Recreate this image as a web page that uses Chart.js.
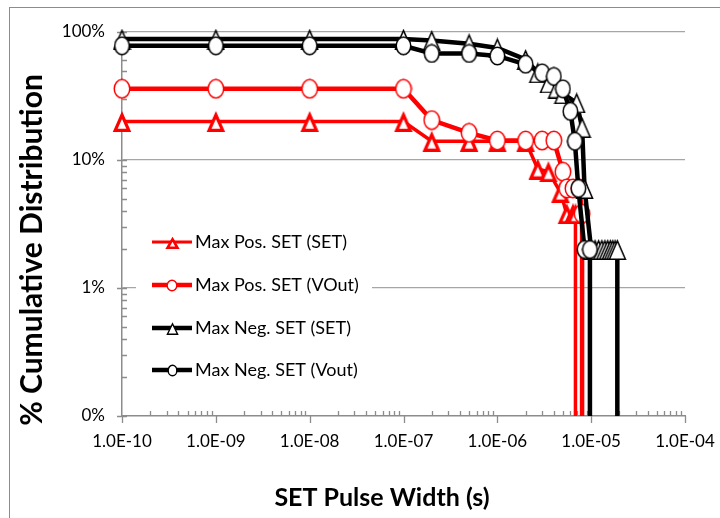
<!DOCTYPE html>
<html>
<head>
<meta charset="utf-8">
<script src="https://cdn.jsdelivr.net/npm/chart.js@4.4.1/dist/chart.umd.min.js"></script>
<style>
  html, body { margin: 0; padding: 0; background: #fff; }
  #wrap { width: 720px; height: 518px; }
</style>
</head>
<body>
<div id="wrap"><canvas id="cdfChart" width="720" height="518"></canvas></div>
<script>
// Serienamn (samma ordning som i förklaringen)
var seriesNames = ['Max Pos. SET (SET)', 'Max Pos. SET (VOut)', 'Max Neg. SET (SET)', 'Max Neg. SET (Vout)'];

// Pulsbredd (s) och kumulativ fördelning (%) - 0.1 betyder "ner till 0%-axeln"
var posSetX = [1e-10, 1e-9, 1e-8, 1e-7, 2e-7, 5e-7, 1e-6, 2e-6, 2.7e-6, 3.5e-6, 4.7e-6, 5.5e-6, 6.4e-6, 6.8e-6, 6.8e-6];
var posSetY = [20, 20, 20, 20, 14, 14, 14, 14, 8.5, 8.1, 5.6, 3.8, 3.8, 3.8, 0.1];

var posVoutX = [1e-10, 1e-9, 1e-8, 1e-7, 2e-7, 5e-7, 1e-6, 2e-6, 3e-6, 4e-6, 5e-6, 5.5e-6, 6.4e-6, 7.5e-6, 8e-6, 8e-6];
var posVoutY = [36, 36, 36, 36, 20.5, 16.3, 14.2, 14.2, 14.2, 14.2, 8.1, 6, 6, 6, 3.8, 0.1];

var negSetX = [1e-10, 1e-9, 1e-8, 1e-7, 2e-7, 5e-7, 1e-6, 2e-6, 2.7e-6, 3.5e-6, 4.3e-6, 5e-6, 7e-6, 8e-6, 8.5e-6,
               1e-5, 1.1e-5, 1.2e-5, 1.3e-5, 1.4e-5, 1.5e-5, 1.6e-5, 1.7e-5, 1.8e-5, 1.9e-5, 1.9e-5];
var negSetY = [88, 88, 88, 88, 86, 81, 75, 61, 48, 40, 36.5, 33, 28, 18, 6,
               2, 2, 2, 2, 2, 2, 2, 2, 2, 2, 0.1];

var negVoutX = [1e-10, 1e-9, 1e-8, 1e-7, 2e-7, 5e-7, 1e-6, 2e-6, 3e-6, 4e-6, 5e-6, 6e-6, 6.7e-6, 7.3e-6, 8.5e-6, 9.7e-6, 9.7e-6];
var negVoutY = [78, 78, 78, 78, 68, 68, 65, 56, 48, 45, 36, 24, 14, 6, 2, 2, 0.1];

// Axelmarkeringar
var xTicks = [1e-10, 1e-9, 1e-8, 1e-7, 1e-6, 1e-5, 1e-4];
var xTickLabels = ['1.0E-10', '1.0E-09', '1.0E-08', '1.0E-07', '1.0E-06', '1.0E-05', '1.0E-04'];
var yTicks = [0.1, 1, 10, 100];
var yTickLabels = ['0%', '1%', '10%', '100%'];

var xTitle = 'SET Pulse Width (s)';
var yTitle = '% Cumulative Distribution';

function toPoints(xs, ys) {
    return xs.map(function (x, i) { return { x: x, y: ys[i] }; });
}

// Markörer som bilder (Excel-liknande triangel/ellips, vit fyllning)
function makeMarker(shape, w, h, color, lw) {
    var cv = document.createElement('canvas');
    cv.width = w; cv.height = h;
    var g = cv.getContext('2d');
    var p = lw / 2;
    g.beginPath();
    if (shape === 'triangle') {
        g.moveTo(w / 2, lw * 1.25);
        g.lineTo(w - lw, h - p);
        g.lineTo(lw, h - p);
        g.closePath();
    } else {
        g.ellipse(w / 2, h / 2, w / 2 - p - 0.5, h / 2 - p - 0.5, 0, 0, Math.PI * 2);
    }
    g.fillStyle = '#fff';
    g.fill();
    g.lineWidth = lw;
    g.strokeStyle = color;
    g.stroke();
    return cv;
}

// Ingen markör på punkten som går ner till axeln
function markerSize(size) {
    return function (c) {
        return c.raw && c.raw.y <= yTicks[0] ? 0 : size;
    };
}

var axisGray = '#8c8c8c';
var gridGray = '#a6a6a6';
var labelFont = { family: 'Lato', size: 17 };

// Ramen, små skalstreck, axeltitlar och förklaringen ritas här
var decorations = {
    id: 'decorations',
    beforeDatasetsDraw: function (chart) {
        var c = chart.ctx, xs = chart.scales.x, ys = chart.scales.y;
        var a = chart.chartArea;
        c.save();
        c.strokeStyle = axisGray;
        c.lineWidth = 1.3;
        c.beginPath();
        for (var n = -10; n < -4; n++) {
            for (var k = 2; k <= 9; k++) {
                var px = Math.round(xs.getPixelForValue(k * Math.pow(10, n))) + 0.5;
                c.moveTo(px, a.bottom); c.lineTo(px, a.bottom - 5);
            }
        }
        xTicks.forEach(function (v) {
            var px = Math.round(xs.getPixelForValue(v)) + 0.5;
            c.moveTo(px, a.bottom); c.lineTo(px, a.bottom + 7);
        });
        for (var m = -1; m < 2; m++) {
            for (var j = 2; j <= 9; j++) {
                var py = Math.round(ys.getPixelForValue(j * Math.pow(10, m))) + 0.5;
                c.moveTo(a.left, py); c.lineTo(a.left + 5, py);
            }
        }
        yTicks.forEach(function (v) {
            var py = Math.round(ys.getPixelForValue(v)) + 0.5;
            c.moveTo(a.left - 5, py); c.lineTo(a.left + 5, py);
        });
        c.stroke();
        c.restore();
    },
    afterDraw: function (chart) {
        var c = chart.ctx;
        c.save();
        // yttre ram
        c.strokeStyle = '#8c8c8c';
        c.lineWidth = 1;
        c.strokeRect(9.5, 7.5, 760, 560);

        // axeltitlar
        c.fillStyle = '#000';
        c.textAlign = 'center';
        c.textBaseline = 'middle';
        c.font = 'bold 25px Lato';
        c.fillText(xTitle, 382, 498);
        c.save();
        c.translate(32, 250);
        c.rotate(-Math.PI / 2);
        c.font = 'bold 30px Lato';
        c.fillText(yTitle, 0, 0);
        c.restore();

        // förklaring
        c.fillStyle = '#fff';
        c.fillRect(136, 222, 236, 168);
        var rows = [242, 285, 328, 370];
        chart.data.datasets.forEach(function (ds, i) {
            var y = rows[i];
            c.strokeStyle = ds.borderColor;
            c.lineWidth = ds.legendLine;
            c.beginPath();
            c.moveTo(152, y); c.lineTo(192, y);
            c.stroke();
            var img = ds.legendImg;
            c.drawImage(img, Math.round(172 - img.width / 2), Math.round(y - img.height / 2));
            c.fillStyle = '#000';
            c.font = '18px Lato';
            c.textAlign = 'left';
            c.fillText(seriesNames[i], 195, y);
        });
        c.restore();
    }
};

var ctx = document.getElementById('cdfChart').getContext('2d');

var myChart = new Chart(ctx, {
    type: 'line',
    data: {
        datasets: [{
            label: seriesNames[0],
            data: toPoints(posSetX, posSetY),
            borderColor: '#ff0000',
            borderWidth: 3.5,
            pointStyle: makeMarker('triangle', 20, 21, '#ff0000', 3.2),
            pointRadius: markerSize(10),
            legendImg: makeMarker('triangle', 15, 13, '#ff0000', 2.6),
            legendLine: 3,
            order: 4
        }, {
            label: seriesNames[1],
            data: toPoints(posVoutX, posVoutY),
            borderColor: '#ff0000',
            borderWidth: 4.5,
            pointStyle: makeMarker('circle', 18, 21, '#ff0000', 1.5),
            pointRadius: markerSize(9),
            legendImg: makeMarker('circle', 12, 13, '#ff0000', 1.4),
            legendLine: 4.5,
            order: 3
        }, {
            label: seriesNames[2],
            data: toPoints(negSetX, negSetY),
            borderColor: '#000',
            borderWidth: 4.5,
            pointStyle: makeMarker('triangle', 19, 21, '#000', 1.5),
            pointRadius: markerSize(10),
            legendImg: makeMarker('triangle', 13, 13, '#000', 1.4),
            legendLine: 4.5,
            order: 2
        }, {
            label: seriesNames[3],
            data: toPoints(negVoutX, negVoutY),
            borderColor: '#000',
            borderWidth: 4.5,
            pointStyle: makeMarker('circle', 17, 20, '#000', 1.5),
            pointRadius: markerSize(9),
            legendImg: makeMarker('circle', 11, 13, '#000', 1.4),
            legendLine: 4.5,
            order: 1
        }]
    },
    options: {
        responsive: false,
        animation: false,
        clip: false,
        layout: { padding: { top: 32, right: 35, left: 0, bottom: 0 } },
        elements: { line: { tension: 0, fill: false } },
        scales: {
            x: {
                type: 'logarithmic',
                min: 1e-10,
                max: 1e-4,
                afterBuildTicks: function (s) {
                    s.ticks = xTicks.map(function (v) { return { value: v, major: true }; });
                },
                afterFit: function (s) { s.height = 102; },
                ticks: {
                    autoSkip: false,
                    maxRotation: 0,
                    padding: 0,
                    color: '#000',
                    font: labelFont,
                    callback: function (v, i) { return xTickLabels[i]; }
                },
                grid: { display: false, drawTicks: true, tickLength: 15 },
                border: { display: true, color: axisGray, width: 1.5 }
            },
            y: {
                type: 'logarithmic',
                min: 0.1,
                max: 100,
                afterBuildTicks: function (s) {
                    s.ticks = yTicks.map(function (v) { return { value: v, major: true }; });
                },
                afterFit: function (s) { s.width = 122; },
                ticks: {
                    autoSkip: false,
                    padding: 17,
                    color: '#000',
                    font: labelFont,
                    callback: function (v, i) { return yTickLabels[i]; }
                },
                grid: {
                    drawTicks: false,
                    lineWidth: 1.3,
                    color: function (c) { return c.tick && c.tick.value === yTicks[0] ? 'rgba(0,0,0,0)' : gridGray; }
                },
                border: { display: true, color: axisGray, width: 1.5 }
            }
        },
        plugins: {
            legend: { display: false },
            tooltip: { enabled: false }
        }
    },
    plugins: [decorations]
});
</script>
</body>
</html>
